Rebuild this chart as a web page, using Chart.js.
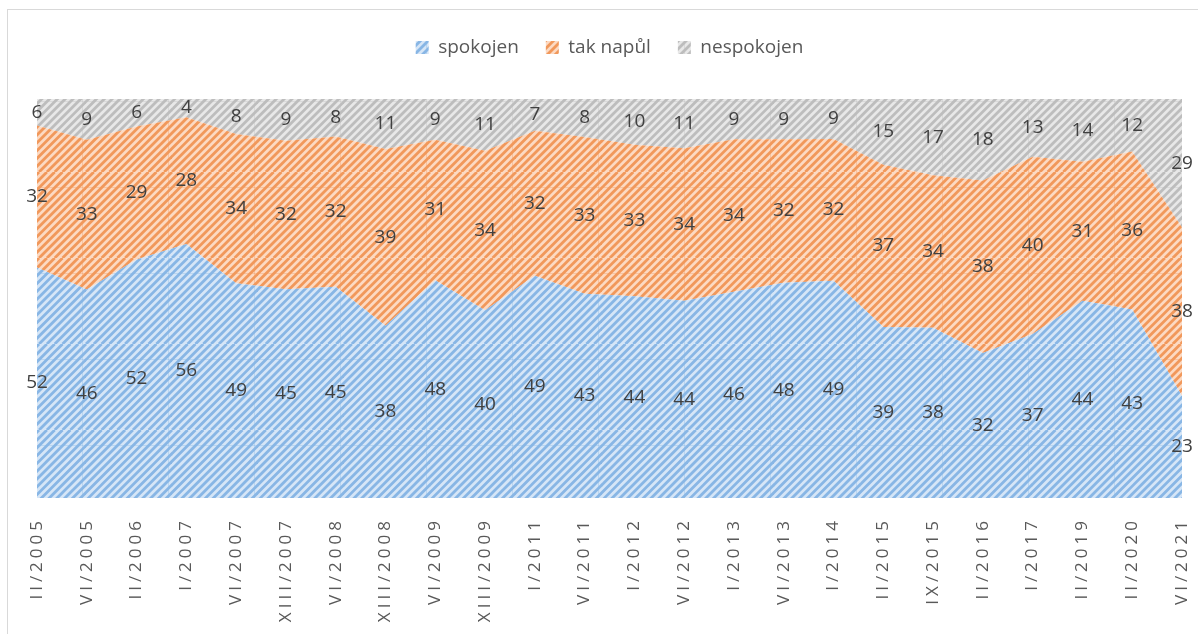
<!DOCTYPE html>
<html lang="cs">
<head>
<meta charset="utf-8">
<title>Spokojenost</title>
<script src="https://cdn.jsdelivr.net/npm/chart.js@4.4.1/dist/chart.umd.min.js"></script>
<style>
    html, body { margin: 0; padding: 0; background: #fff; }
    #obal { width: 1198px; height: 634px; position: relative; }
</style>
</head>
<body>
<div id="obal"><canvas id="graf"></canvas></div>
<script>
// Období šetření (osa X)
const obdobi = ['II/2005', 'VI/2005', 'II/2006', 'I/2007', 'VI/2007', 'XIII/2007', 'VI/2008', 'XIII/2008',
    'VI/2009', 'XIII/2009', 'I/2011', 'VI/2011', 'I/2012', 'VI/2012', 'I/2013', 'VI/2013', 'I/2014',
    'II/2015', 'IX/2015', 'II/2016', 'I/2017', 'II/2019', 'II/2020', 'VI/2021'];

// Hodnoty v procentech, tak jak jsou popsané v grafu
const spokojen   = [52, 46, 52, 56, 49, 45, 45, 38, 48, 40, 49, 43, 44, 44, 46, 48, 49, 39, 38, 32, 37, 44, 43, 23];
const takNapul   = [32, 33, 29, 28, 34, 32, 32, 39, 31, 34, 32, 33, 33, 34, 34, 32, 32, 37, 34, 38, 40, 31, 36, 38];
const nespokojen = [ 6,  9,  6,  4,  8,  9,  8, 11,  9, 11,  7,  8, 10, 11,  9,  9,  9, 15, 17, 18, 13, 14, 12, 29];

// Graf je "100% skládaný" – podíly se počítají ze součtu tří odpovědí
const soucty = obdobi.map((_, i) => spokojen[i] + takNapul[i] + nespokojen[i]);
const podil = arr => arr.map((v, i) => v / soucty[i] * 100);

const pismo = "'Open Sans', 'Noto Sans', sans-serif";

// Šrafovaná výplň (diagonální proužky) jako v Excelu
function vzorek(pozadi, pruh) {
    const N = 86, k = 11, p = N / k;
    const c = document.createElement('canvas');
    c.width = N;
    c.height = N;
    const g = c.getContext('2d');
    g.fillStyle = pozadi;
    g.fillRect(0, 0, N, N);
    g.strokeStyle = pruh;
    g.lineWidth = 2.8;
    for (let i = -k; i <= k; i++) {
        g.beginPath();
        g.moveTo(i * p, N);
        g.lineTo(i * p + N, 0);
        g.stroke();
    }
    // slabé švy dlaždic, které jsou vidět i v originále
    g.globalAlpha = 0.35;
    g.fillStyle = pruh;
    g.fillRect(82, 0, 1, N);
    g.fillRect(0, 15, N, 1);
    return g.createPattern(c, 'repeat');
}

const modra = vzorek('#d6e6f7', '#88b6e5');
const oranzova = vzorek('#fcdac3', '#f1985b');
const seda = vzorek('#e8e8e8', '#bdbdbd');

// Rámeček kolem celého grafu + prostrkání popisků osy X
const ramecek = {
    id: 'ramecek',
    beforeDraw(chart) {
        const ctx = chart.ctx;
        ctx.save();
        ctx.strokeStyle = '#d9d9d9';
        ctx.lineWidth = 1;
        ctx.strokeRect(7.5, 9.5, chart.width, chart.height);
        ctx.restore();

        const osa = chart.scales.x;
        if (osa && !osa._prostrkano) {
            const puvodni = osa.drawLabels;
            osa.drawLabels = function (oblast) {
                this.ctx.save();
                this.ctx.letterSpacing = '4px';
                puvodni.call(this, oblast);
                this.ctx.restore();
            };
            osa._prostrkano = true;
        }
    }
};

// Větší mezera pod legendou
const odsazeniLegendy = {
    id: 'odsazeniLegendy',
    beforeLayout(chart) {
        const legenda = chart.legend;
        if (legenda && !legenda._odsazeno) {
            const fit = legenda.fit;
            legenda.fit = function () {
                fit.call(this);
                this.height += 32;
            };
            legenda._odsazeno = true;
        }
    }
};

// Popisky hodnot uprostřed každého pásu
const popisky = {
    id: 'popisky',
    afterDatasetsDraw(chart) {
        const { ctx, chartArea } = chart;
        ctx.save();
        ctx.font = '19px ' + pismo;
        ctx.fillStyle = '#404040';
        ctx.textAlign = 'center';
        ctx.textBaseline = 'middle';
        chart.data.datasets.forEach((ds, d) => {
            const body = chart.getDatasetMeta(d).data;
            const pod = d > 0 ? chart.getDatasetMeta(d - 1).data : null;
            body.forEach((bod, i) => {
                const spodek = pod ? pod[i].y : chartArea.bottom;
                ctx.fillText(String(ds.hodnoty[i]), bod.x, (bod.y + spodek) / 2);
            });
        });
        ctx.restore();
    }
};

const ctx = document.getElementById('graf').getContext('2d');
new Chart(ctx, {
    type: 'line',
    data: {
        labels: obdobi,
        datasets: [
            { label: 'spokojen', data: podil(spokojen), hodnoty: spokojen, backgroundColor: modra, fill: 'origin' },
            { label: 'tak napůl', data: podil(takNapul), hodnoty: takNapul, backgroundColor: oranzova, fill: '-1' },
            { label: 'nespokojen', data: podil(nespokojen), hodnoty: nespokojen, backgroundColor: seda, fill: '-1' }
        ]
    },
    options: {
        responsive: true,
        maintainAspectRatio: false,
        animation: false,
        elements: {
            line: { borderWidth: 0, tension: 0 },
            point: { radius: 0, hoverRadius: 0 }
        },
        layout: { padding: { left: 37, right: 16, top: 11, bottom: 0 } },
        plugins: {
            legend: {
                position: 'top',
                labels: {
                    boxWidth: 13,
                    boxHeight: 13,
                    padding: 27,
                    color: '#595959',
                    font: { family: pismo, size: 19 }
                }
            },
            tooltip: { enabled: false }
        },
        scales: {
            x: {
                offset: false,
                grid: { display: false, drawTicks: false },
                border: { display: false },
                ticks: {
                    autoSkip: false,
                    minRotation: 90,
                    maxRotation: 90,
                    padding: 19,
                    color: '#595959',
                    font: { family: pismo, size: 17 }
                },
                afterFit(osa) {
                    osa.height = 136;
                    osa.paddingLeft = 0;
                    osa.paddingRight = 0;
                }
            },
            y: {
                display: false,
                stacked: true,
                min: 0,
                max: 100
            }
        }
    },
    plugins: [ramecek, odsazeniLegendy, popisky]
});
</script>
</body>
</html>
